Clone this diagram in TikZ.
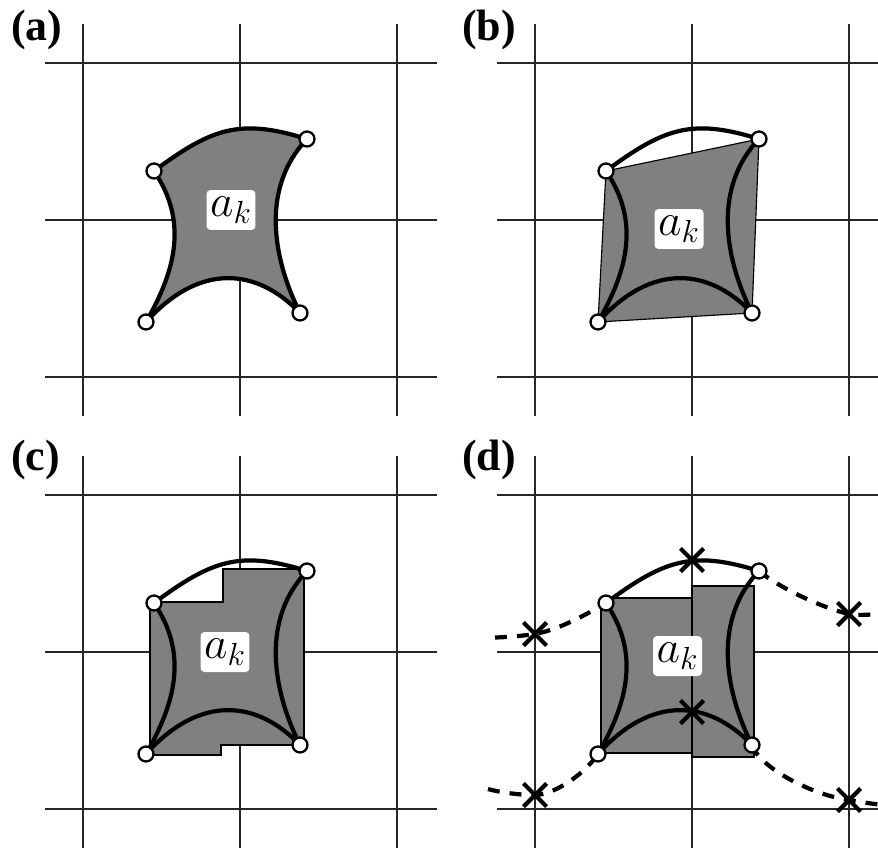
\documentclass[tikz,border=0pt]{standalone}
\usepackage{fix-cm}
\usepackage{fontspec}
\newfontfamily\labelfont{Liberation Serif}
\usetikzlibrary{shapes.misc}

\tikzset{
    gridline/.style={black!85, line width=0.65pt},
    edgecurve/.style={line width=2.4pt, line join=round},
    dashcurve/.style={line width=2.4pt, dash pattern=on 6.8pt off 5.7pt},
    knot/.style={circle, draw, fill=white, line width=1.3pt,
                 minimum size=0.3cm, inner sep=0pt},
    xmark/.style={cross out, draw, line width=2.4pt,
                  minimum size=0.38cm, inner sep=0pt},
    cellfill/.style={fill=gray, draw=black, line width=0.65pt},
    cellname/.style={fill=white, rounded corners=0.08cm, inner sep=0pt,
                     minimum width=0.98cm, minimum height=0.8cm,
                     font=\fontsize{26}{31}\selectfont},
    panelname/.style={anchor=west, inner sep=0pt,
                      font=\labelfont\bfseries\fontsize{25}{30}\selectfont},
}

% grid of one panel
\newcommand{\cellgrid}{%
    \foreach \gx in {83,240,397}
        \draw[gridline] (\gx,24) -- (\gx,416);
    \foreach \gy in {63,220,377}
        \draw[gridline] (45,\gy) -- (437,\gy);
}
% the four corners of the cell
\newcommand{\cellknots}{%
    \coordinate (tl) at (154,171);
    \coordinate (tr) at (307,139);
    \coordinate (br) at (300,313);
    \coordinate (bl) at (146,322);
}
% the four curved sides
\newcommand{\celledges}[1][]{%
    \draw[edgecurve, #1] (tl) .. controls (212,128) and (240,118) .. (tr)
        .. controls (262,186) and (271,255) .. (br)
        .. controls (257,268) and (200,262) .. (bl)
        .. controls (176,270) and (188,221) .. (tl) -- cycle;
}

\begin{document}
\begin{tikzpicture}[x=0.02cm, y=-0.02cm]
    \useasboundingbox (0,0) rectangle (878,848);
    \clip (0,0) rectangle (878,848);

    % (a)
    \begin{scope}[name prefix=a-]
        \node[panelname] (lbl) at (11,30) {(a)};
        \cellgrid
        \cellknots
        \celledges[fill=gray]
        \node[cellname] (ak) at (231,210) {$a_k$};
        \foreach \k in {tl,tr,br,bl} \node[knot] (\k-o) at (\k) {};
    \end{scope}

    % (b)
    \begin{scope}[shift={(452,0)}, name prefix=b-]
        \node[panelname] (lbl) at (10,30) {(b)};
        \cellgrid
        \cellknots
        \draw[cellfill] (tl) -- (tr) -- (br) -- (bl) -- cycle;
        \celledges
        \node[cellname] (ak) at (227,229) {$a_k$};
        \foreach \k in {tl,tr,br,bl} \node[knot] (\k-o) at (\k) {};
    \end{scope}

    % (c)
    \begin{scope}[shift={(0,432)}, name prefix=c-]
        \node[panelname] (lbl) at (11,28) {(c)};
        \cellgrid
        \cellknots
        \draw[cellfill] (150,170) -- (223,170) -- (223,137) -- (304,137)
            -- (304,313) -- (221,313) -- (221,323) -- (150,323) -- cycle;
        \celledges
        \node[cellname] (ak) at (225,220) {$a_k$};
        \foreach \k in {tl,tr,br,bl} \node[knot] (\k-o) at (\k) {};
    \end{scope}

    % (d)
    \begin{scope}[shift={(452,432)}, name prefix=d-]
        \node[panelname] (lbl) at (10,28) {(d)};
        \cellgrid
        \cellknots
        \draw[cellfill] (149,166) rectangle (240,321);
        \draw[cellfill] (240,154) rectangle (302,325);
        \celledges
        \node[cellname] (ak) at (225.5,224) {$a_k$};
        % sides of the neighbouring cells
        \coordinate (ul) at (43,205.5);
        \coordinate (ur) at (432,182);
        \coordinate (ll) at (36,357);
        \coordinate (lr) at (432,373);
        \coordinate (xt) at (240,128);
        \coordinate (xb) at (240,280);
        \coordinate (xul) at (83,202);
        \coordinate (xur) at (397,182);
        \coordinate (xll) at (83,363);
        \coordinate (xlr) at (397,368);
        \draw[dashcurve] (ul) .. controls (60,205) and (72,203.5) .. (xul)
            .. controls (105,198) and (130,185) .. (tl);
        \draw[dashcurve] (tr) .. controls (326,155) and (370,176) .. (xur)
            .. controls (410,184) and (420,182) .. (ur);
        \draw[dashcurve] (ll) .. controls (50,361) and (70,363) .. (xll)
            .. controls (100,363) and (130,345) .. (bl);
        \draw[dashcurve] (br) .. controls (306,333) and (355,362) .. (xlr)
            .. controls (410,370) and (420,372) .. (lr);
        \foreach \k in {xt,xb,xul,xur,xll,xlr} \node[xmark] (\k-m) at (\k) {};
        \foreach \k in {tl,tr,br,bl} \node[knot] (\k-o) at (\k) {};
    \end{scope}
\end{tikzpicture}
\end{document}
